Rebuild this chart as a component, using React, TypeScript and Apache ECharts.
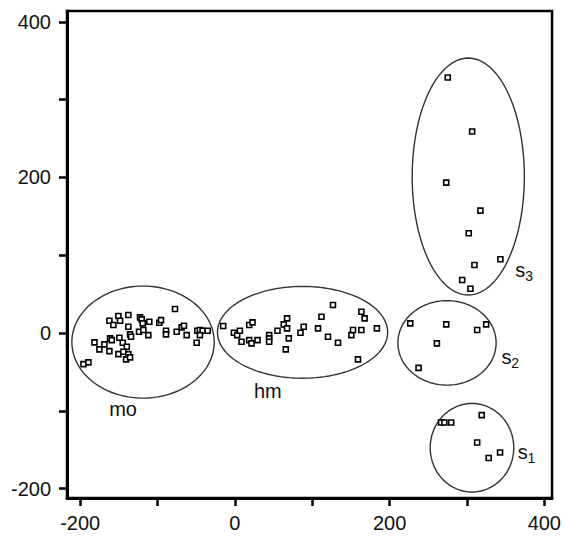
import React, { useEffect, useRef } from "react";
import * as echarts from "echarts";

// point groups [x, y]
const moPoints: number[][] = [
  [-195.7, -39.9], [-189.3, -37.7], [-181.5, -12], [-175.1, -21], [-168.6, -14.5],
  [-162.2, -23.2], [-162.2, 15.8], [-150.6, 21.9], [-148.4, 15.8], [-137.7, 23.2],
  [-157, 10.3], [-161.3, -6.8], [-159.1, -9], [-149.3, -6], [-144.9, -12.5],
  [-137.7, 8.1], [-139.7, -17.6], [-150.6, -27], [-144.1, -24.1], [-137.7, -27],
  [-140.6, -33.8], [-135.5, -31.3], [-135.5, -1.7], [-134.2, -4.8], [-122.6, 20.2],
  [-120.4, 17.6], [-119.1, 12.5], [-110.6, 14.5], [-123.9, 1.7], [-118.3, 3.9],
  [-111.9, -2.6], [-97.7, 13.3], [-95.5, 16.7], [-77.4, 30.9], [-89, 3],
  [-89, -1.7], [-75.2, 1.7], [-68.8, 7.3], [-65.8, 9.4], [-62.3, -2.6],
  [-48.6, 3], [-45.2, 3.9], [-41.7, 3], [-35.2, 3], [-45.2, -2.6], [-49.4, -12.5],
];
const hmPoints: number[][] = [
  [-15.1, 9], [-1.3, 0.4], [3.0, -2.6], [6.5, 3], [8.6, -11.2], [18.5, 10.3],
  [22.8, 13.8], [18.5, -9], [21.5, -13.3], [29.3, -9], [44.3, -2.6], [44.3, -6.8],
  [44.3, -11.2], [55.1, 3], [63.2, 11.2], [67.5, 18.9], [67.5, 6], [69.7, -6.8],
  [65.8, -21], [84.8, 0.4], [89, 8.1], [107.5, 6], [111.9, 21], [120.4, -4.8],
  [126.8, 36], [133.3, -12.5], [150.6, -2.6], [152.7, 3.9], [163.5, 27.4],
  [167.7, 18.9], [163.5, 3.9], [183.6, 6], [159.1, -33.8],
];
const s1Points: number[][] = [
  [266.5, -115], [270.8, -115], [279.6, -115], [319.1, -105.5], [313.2, -140.7],
  [328.1, -160.5], [342.8, -153.6],
];
const s2Points: number[][] = [
  [226.7, 12.5], [273.2, 11.2], [313.2, 3.9], [324.8, 11.2], [261.1, -13.3], [237.4, -44.7],
];
const s3Points: number[][] = [
  [275.2, 328.6], [306.7, 259.1], [273.2, 193.4], [317.4, 157.4], [302.3, 128.3],
  [309.7, 87.5], [343.2, 94.8], [293.8, 68.2], [304.5, 57.0],
];

// ellipses [cx, cy, rx, ry]
const ellipses: number[][] = [
  [-118.7, -11.6, 92, 72],
  [87.5, 1, 110, 59],
  [274.2, -12.6, 63.5, 54.3],
  [301.7, 201.2, 72.5, 152.3],
  [306.5, -147.4, 54, 56.9],
];

// group labels [x, y, text]
const groupLabels: [number, number, string][] = [
  [-144.5, -97.8, "{t|mo}"],
  [42.6, -74.6, "{t|hm}"],
  [374, 81, "{t|s}{sub|3}"],
  [356, -31, "{t|s}{sub|2}"],
  [377, -153, "{t|s}{sub|1}"],
];

const xTicks = [-200, -100, 0, 100, 200, 300, 400];
const xLabels = [-200, 0, 200, 400];
const yTicks = [-200, -100, 0, 100, 200, 300, 400];
const yLabels = [-200, 0, 200, 400];

const FONT = "'Liberation Sans', Arial, sans-serif";

export default function App() {
  const ref = useRef<HTMLDivElement>(null);
  useEffect(() => {
    if (!ref.current) return;
    const chart = echarts.init(ref.current, null, { renderer: "svg" });
    const pointSeries = (data: number[][]) => ({
      type: "scatter",
      data,
      symbol: "rect",
      symbolSize: 5,
      itemStyle: { color: "#fff", borderColor: "#000", borderWidth: 1.6, opacity: 1 },
      silent: true,
      z: 3,
    });
    chart.setOption({
      animation: false,
      backgroundColor: "#fff",
      grid: {
        left: 67,
        right: 11,
        top: 11,
        bottom: 41,
        show: true,
        borderColor: "#000",
        borderWidth: 2.5,
        backgroundColor: "transparent",
      },
      xAxis: {
        type: "value",
        min: -217,
        max: 410,
        splitLine: { show: false },
        axisLine: { show: true, onZero: false, lineStyle: { color: "#000", width: 3 } },
        axisTick: {
          show: true,
          customValues: xTicks,
          length: 8,
          lineStyle: { color: "#000", width: 2.5 },
        },
        axisLabel: {
          customValues: xLabels,
          color: "#111",
          fontSize: 20,
          fontFamily: FONT,
          margin: 15,
        },
      },
      yAxis: {
        type: "value",
        min: -212,
        max: 414,
        splitLine: { show: false },
        axisLine: { show: true, onZero: false, lineStyle: { color: "#000", width: 3 } },
        axisTick: {
          show: true,
          customValues: yTicks,
          length: 8,
          lineStyle: { color: "#000", width: 2.5 },
        },
        axisLabel: {
          customValues: yLabels,
          color: "#111",
          fontSize: 20,
          fontFamily: FONT,
          margin: 16,
        },
      },
      series: [
        {
          type: "custom",
          data: ellipses,
          encode: { x: 0, y: 1 },
          silent: true,
          z: 2,
          renderItem: (params: any, api: any) => {
            const cx = api.value(0);
            const cy = api.value(1);
            const rx = api.value(2);
            const ry = api.value(3);
            const pts: number[][] = [];
            const n = 120;
            for (let i = 0; i < n; i++) {
              const a = (i / n) * Math.PI * 2;
              pts.push(api.coord([cx + rx * Math.cos(a), cy + ry * Math.sin(a)]));
            }
            return {
              type: "polygon",
              shape: { points: pts },
              style: { fill: "none", stroke: "#333", lineWidth: 1.4 },
            };
          },
        },
        pointSeries(moPoints),
        pointSeries(hmPoints),
        pointSeries(s1Points),
        pointSeries(s2Points),
        pointSeries(s3Points),
        {
          type: "scatter",
          data: groupLabels.map((g) => ({ value: [g[0], g[1]], name: g[2] })),
          symbolSize: 0,
          silent: true,
          itemStyle: { color: "#111", opacity: 1 },
          label: {
            show: true,
            position: "inside",
            color: "#111",
            opacity: 1,
            textBorderWidth: 0,
            textBorderColor: "transparent",
            formatter: (p: any) => p.name,
            rich: {
              t: { fontSize: 20, fontFamily: FONT, color: "#111", textBorderWidth: 0 },
              sub: {
                fontSize: 14,
                fontFamily: FONT,
                color: "#111",
                textBorderWidth: 0,
                padding: [12, 0, 0, 0],
              },
            },
          },
        },
      ],
    });
    return () => chart.dispose();
  }, []);
  return (
    <div
      ref={ref}
      style={{ position: "absolute", left: 0, top: 0, width: 564, height: 539 }}
    />
  );
}
